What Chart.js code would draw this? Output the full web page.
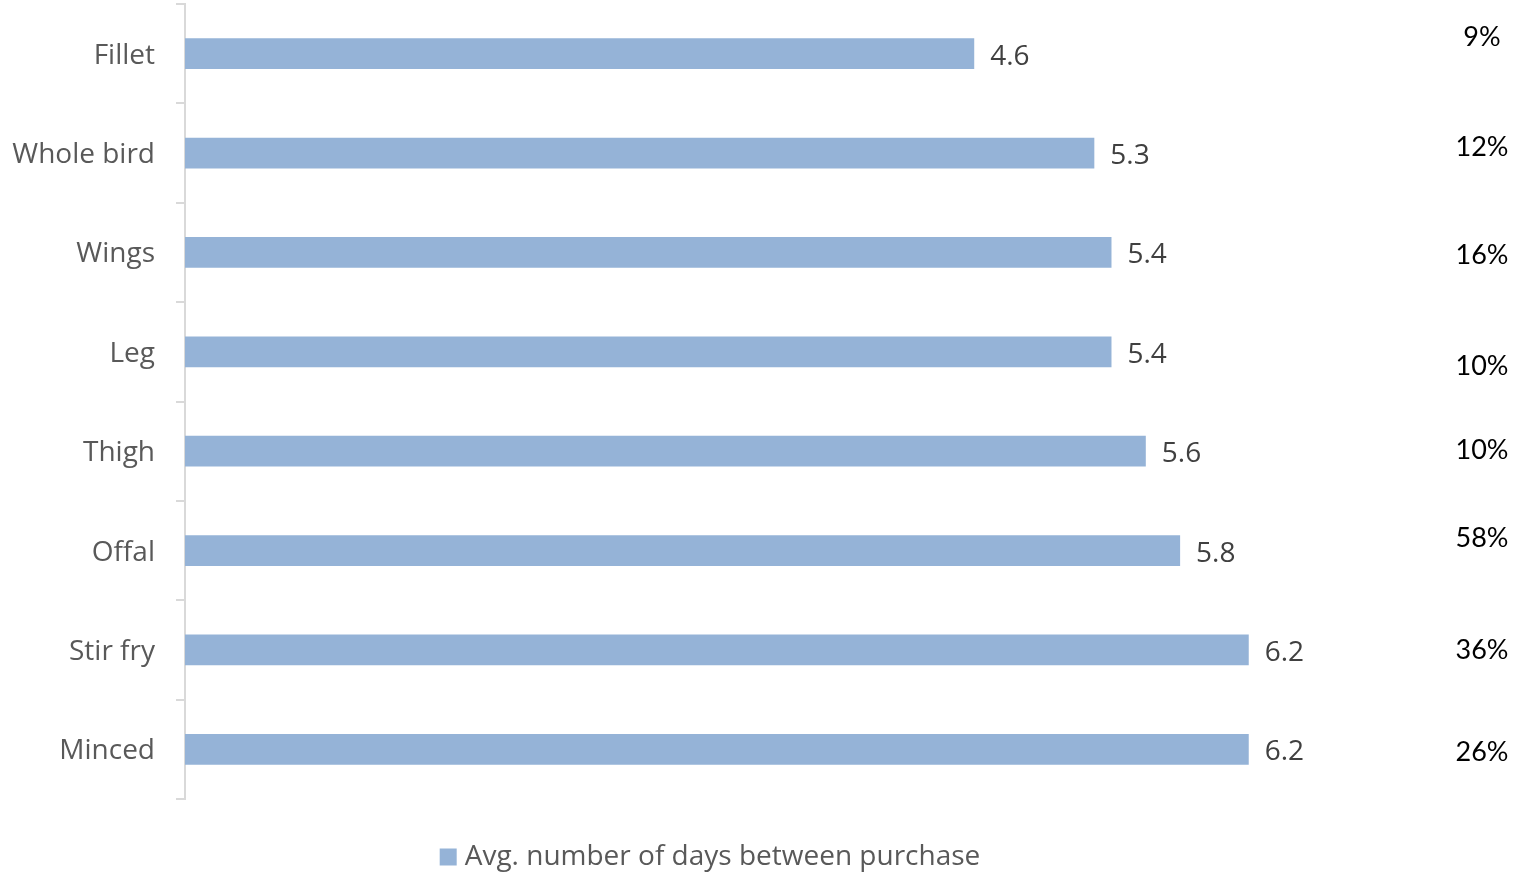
<!DOCTYPE html>
<html>
<head>
<meta charset="utf-8">
<script src="https://cdn.jsdelivr.net/npm/chart.js@4"></script>
<style>
  html, body { margin: 0; padding: 0; background: #ffffff; }
  #wrap { width: 1523px; height: 873px; position: relative; }
</style>
</head>
<body>
<div id="wrap"><canvas id="chart" width="1523" height="873"></canvas></div>
<script>
// Chicken cuts and the average number of days between purchases
const categories = ['Fillet', 'Whole bird', 'Wings', 'Leg', 'Thigh', 'Offal', 'Stir fry', 'Minced'];
const avgDays = [4.6, 5.3, 5.4, 5.4, 5.6, 5.8, 6.2, 6.2];
const shareLabels = ['9%', '12%', '16%', '10%', '10%', '58%', '36%', '26%'];
const seriesName = 'Avg. number of days between purchase';

// vertical nudges (px) of the share labels against each row's centre
const shareNudge = [-16, -6, 3, 14, -1, -12, 0, 3];

const BAR_COLOR = '#95B3D7';
const AXIS_COLOR = '#D9D9D9';
const FONT = "'Open Sans', 'DejaVu Sans', sans-serif";

const annotate = {
  id: 'annotate',
  afterDatasetsDraw(chart) {
    const ctx = chart.ctx;
    const meta = chart.getDatasetMeta(0);
    const yScale = chart.scales.y;
    ctx.save();
    // value labels at the end of each bar
    ctx.font = "28px " + FONT;
    ctx.fillStyle = '#404040';
    ctx.textAlign = 'left';
    ctx.textBaseline = 'middle';
    meta.data.forEach((bar, i) => {
      ctx.fillText(avgDays[i].toFixed(1), bar.x + 16, bar.y + 3);
    });
    // share labels down the right edge
    ctx.font = "27px Lato, 'DejaVu Sans', sans-serif";
    ctx.fillStyle = '#000000';
    ctx.textAlign = 'center';
    shareLabels.forEach((t, i) => {
      ctx.fillText(t, 1482, yScale.getPixelForValue(i) + shareNudge[i]);
    });
    // legend below the plot
    const ds = chart.data.datasets[0];
    ctx.font = "28px " + FONT;
    ctx.textAlign = 'left';
    const tw = ctx.measureText(ds.label).width;
    const total = 17 + 8 + tw;
    const lx = 710 - total / 2;
    const ly = 857;
    ctx.fillStyle = ds.backgroundColor;
    ctx.fillRect(lx, ly - 8.5, 17, 17);
    ctx.fillStyle = '#595959';
    ctx.fillText(ds.label, lx + 25, ly);
    ctx.restore();
  }
};

new Chart(document.getElementById('chart'), {
  type: 'bar',
  data: {
    labels: categories,
    datasets: [{
      label: seriesName,
      data: avgDays,
      backgroundColor: BAR_COLOR,
      borderWidth: 0,
      categoryPercentage: 1,
      barPercentage: 0.31
    }]
  },
  options: {
    indexAxis: 'y',
    responsive: false,
    animation: false,
    layout: { padding: { top: 4, bottom: 74, left: 0, right: 137 } },
    plugins: {
      legend: { display: false },
      tooltip: { enabled: false }
    },
    scales: {
      x: {
        display: false,
        min: 0,
        max: 7
      },
      y: {
        type: 'category',
        offset: true,
        afterFit(scale) {
          scale.width = 185;
          scale.paddingTop = 0;
          scale.paddingBottom = 0;
        },
        grid: {
          offset: true,
          drawOnChartArea: false,
          drawTicks: true,
          tickLength: 9,
          color: AXIS_COLOR,
          lineWidth: 2
        },
        border: { display: true, color: AXIS_COLOR, width: 2 },
        ticks: {
          padding: 21,
          labelOffset: 2,
          color: '#595959',
          font: { family: FONT, size: 28 }
        }
      }
    }
  },
  plugins: [annotate]
});
</script>
</body>
</html>
